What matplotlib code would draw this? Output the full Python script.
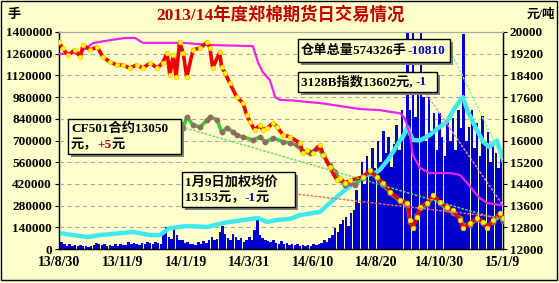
import matplotlib
matplotlib.use('Agg')
import matplotlib.pyplot as plt
from matplotlib.patches import Rectangle
from matplotlib.text import Annotation

plt.rcParams['font.family'] = ['Liberation Serif', 'Noto Sans CJK SC']
plt.rcParams['font.weight'] = 'bold'

W, H = 559, 283
BG = '#FFFFCC'

# x values are days since 2013-08-30
tick_days = [0, 71, 142, 213, 284, 355, 426, 497]
tick_labels = ['13/8/30', '13/11/9', '14/1/19', '14/3/31', '14/6/10', '14/8/20', '14/10/30', '15/1/9']

# daily volume (lots), left axis
vol_day = [0, 3, 6, 9, 12, 15, 18, 21, 24, 27, 30, 33, 36, 39, 42, 45, 48, 51, 54, 57,
           60, 63, 66, 69, 72, 75, 78, 81, 84, 87, 90, 93, 96, 99, 102, 105, 108, 111, 114, 117,
           120, 123, 126, 129, 132, 135, 138, 141, 144, 147, 150, 153, 156, 159, 162, 165, 168, 171, 174, 177,
           180, 183, 186, 189, 192, 195, 198, 201, 204, 207, 210, 213, 216, 219, 222, 225, 228, 231, 234, 237,
           240, 243, 246, 249, 252, 255, 258, 261, 264, 267, 270, 273, 276, 279, 282, 285, 288, 291, 294, 297,
           300, 303, 306, 309, 312, 315, 318, 321, 324, 327, 330, 333, 336, 339, 342, 345, 348, 351, 354, 357,
           360, 363, 366, 369, 372, 375, 378, 381, 384, 387, 390, 393, 396, 399, 402, 405, 408, 411, 414, 417,
           420, 423, 426, 429, 432, 435, 438, 441, 444, 447, 450, 453, 456, 459, 462, 465, 468, 471, 474, 477,
           480, 483, 486, 489, 492, 495]
volume = [26, 45, 30, 22, 35, 20, 28, 18, 25, 20, 22, 15, 20, 28, 40, 30, 25, 33, 20, 27,
          18, 30, 22, 35, 25, 28, 48, 30, 40, 32, 26, 38, 30, 42, 36, 30, 45, 40, 35, 95,
          140, 80, 65, 128, 90, 55, 60, 40, 45, 35, 30, 25, 45, 35, 50, 40, 60, 75, 55, 65,
          110, 148, 100, 70, 60, 95, 80, 55, 70, 48, 60, 75, 55, 120, 187, 90, 70, 55, 50, 45,
          60, 40, 35, 50, 30, 40, 28, 35, 25, 30, 22, 28, 20, 26, 22, 30, 25, 35, 40, 58,
          45, 70, 90, 135, 110, 160, 187, 206, 150, 230, 250, 380, 300, 561, 420, 600, 480, 650, 523, 700,
          560, 760, 620, 720, 529, 680, 800, 640, 900, 760, 1400, 900, 1400, 850, 1100, 1400, 981, 700, 980, 760,
          880, 640, 877, 720, 600, 820, 700, 845, 640, 900, 780, 1390, 700, 787, 900, 650, 813, 600, 860, 700,
          755, 560, 680, 619, 520, 600]
volume = [v * 1000 for v in volume]

# warehouse receipts (lots), left axis
rcpt_day = [0, 32, 46, 83, 102, 113, 124, 143, 166, 184, 206, 223, 233, 244, 259, 270, 292, 307, 320, 331,
            343, 354, 359, 368, 374, 382, 385, 390, 396, 404, 415, 426, 434, 443, 452, 457, 466, 475, 482, 490, 497]
receipts = [103, 77, 90, 110, 90, 90, 135, 148, 142, 168, 187, 200, 174, 187, 195, 219, 239, 316, 380, 426,
            477, 490, 510, 574, 626, 703, 723, 787, 703, 700, 735, 787, 820, 910, 980, 897, 787, 690, 658, 700, 574]
receipts = [v * 1000 for v in receipts]

# 3128B index (yuan/t), right axis
idx_day = [0, 23, 38, 57, 74, 85, 94, 139, 169, 217, 223, 228, 236, 242, 247, 259, 292, 337, 359, 382,
           387, 393, 396, 404, 415, 438, 449, 457, 466, 471, 479, 494, 497]
index_3128b = [19190, 19230, 19590, 19700, 19780, 19780, 19600, 19600, 19520, 19480, 18860, 18530, 18230, 17600, 17500,
               17480, 17380, 17160, 17120, 17000, 16830, 16200, 15470, 14990, 14800, 14800, 14730, 14430, 14060, 13880,
               13700, 13620, 13602]

# weighted average price (yuan/t), right axis
avg_day = [0, 4, 10, 18, 24, 27, 35, 43, 49, 57, 65, 72, 79, 87, 94, 102, 110, 116, 121, 124,
           128, 131, 135, 139, 143, 150, 158, 166, 169, 172, 180, 182, 186, 191, 199, 206, 210, 214, 219, 225,
           228, 233, 240, 244, 251, 259, 270, 273, 278, 284, 292, 296, 303, 311, 315, 320, 326, 340, 348, 356,
           363, 371, 382, 390, 393, 396, 401, 404, 412, 419, 426, 434, 441, 449, 452, 460, 468, 475, 479, 486,
           494, 497]
avg_price = [19630, 19410, 19150, 19340, 19080, 19520, 19340, 19450, 19080, 18900, 18780, 18780, 18670, 18780, 18670, 18860,
             18670, 18860, 19230, 18415, 19150, 18340, 19630, 19230, 18340, 19340, 19410, 19630, 19410, 18670, 19260, 18700,
             18490, 18120, 17600, 17380, 16940, 16680, 16390, 16570, 16390, 16460, 16650, 16500, 16200, 16130, 15900, 15540,
             15650, 15540, 15830, 15470, 15020, 14540, 14620, 14430, 14540, 14650, 14910, 14650, 14430, 14100, 13800, 13700,
             13070, 12770, 13180, 13550, 13700, 13990, 13730, 13550, 13440, 13070, 12770, 12960, 13140, 13000, 12770, 13070,
             13330, 13153]

# CF501 contract (yuan/t), right axis
cf_day = [139, 143, 150, 158, 166, 169, 177, 182, 188, 195, 199, 206, 217, 225, 231, 240, 251, 259, 266, 273,
          281, 289, 296, 303, 309, 315, 320, 326, 331, 340, 348, 356, 363, 371, 382, 390, 393, 396, 401, 404,
          412, 419, 426, 434, 441, 449, 452, 460, 468, 475, 479, 486, 494, 497]
cf501 = [16460, 16870, 16570, 16500, 16760, 16870, 16760, 16310, 16460, 16310, 16200, 16130, 16020, 16130, 15950, 16090,
         15950, 15910, 15830, 15580, 15540, 15720, 15470, 15100, 14840, 14540, 14360, 14430, 14360, 14620, 14840, 14620,
         14360, 14060, 13760, 13620, 13000, 12800, 13250, 13500, 13650, 13920, 13700, 13480, 13330, 13150, 12880, 12900,
         13100, 12950, 12850, 13000, 13250, 13050]


def fx(x):
    return x / W


def fy(y):
    return 1 - y / H


fig = plt.figure(figsize=(W / 100, H / 100), dpi=100, facecolor=BG)
ax = fig.add_axes([fx(59), fy(249), (503 - 59) / W, (249 - 32) / H])
ax.set_facecolor(BG)
ax2 = ax.twinx()

ax.bar(vol_day, volume, width=2.75, color='#0000CC', zorder=2)
ax.plot(rcpt_day, receipts, color='#40E8F2', lw=3.2, zorder=3, solid_joinstyle='round')

ax2.plot(idx_day, index_3128b, color='#EE22EE', lw=1.6, zorder=3)
ax2.plot(cf_day, cf501, color='#33CC33', lw=2.6, zorder=4,
         marker='o', ms=3.2, mfc='#996666', mec='#996666')
ax2.plot(avg_day, avg_price, color='#EE0000', lw=2.6, zorder=5,
         marker='o', ms=3.2, mfc='#FFFF00', mec='#FFCC00', mew=0.6)

left_ticks = list(range(0, 1400001, 140000))
ax.set_xlim(0, 497)
ax.set_ylim(0, 1400000)
ax2.set_ylim(12000, 20000)
ax.set_yticks(left_ticks)
ax.set_yticklabels([str(t) for t in left_ticks])
ax2.set_yticks(range(12000, 20001, 800))
ax.set_xticks(tick_days)
ax.set_xticklabels(tick_labels)
ax.yaxis.grid(True, linestyle=(0, (4, 3)), color='#A8A8A8', lw=0.8, zorder=0)
ax.set_axisbelow(True)

for a in (ax, ax2):
    a.tick_params(labelsize=9.5, length=3, width=0.8, pad=2)
    for s in ('left', 'right', 'bottom'):
        a.spines[s].set_linewidth(0.9)
    a.spines['top'].set_color('#A8A8A8')
ax.tick_params(axis='x', labelsize=10, length=0, pad=5)

fig.text(fx(280), fy(15), '2013/14年度郑棉期货日交易情况', color='#C00000',
         fontsize=12.5, ha='center', va='center')
fig.text(fx(8), fy(15), '手', fontsize=9.5, ha='left', va='center')
fig.text(fx(555), fy(15), '元/吨', fontsize=9, ha='right', va='center')

# figure border
fig.add_artist(Rectangle((fx(1), fy(280)), 556 / W, 279 / H, transform=fig.transFigure,
                         fill=False, ec='black', lw=1))


def box(x0, y0, x1, y1):
    fig.add_artist(Rectangle((fx(x0 + 3), fy(y1 + 3)), (x1 - x0) / W, (y1 - y0) / H,
                             transform=fig.transFigure, fc='#808080', ec='none', zorder=6))
    fig.add_artist(Rectangle((fx(x0), fy(y1)), (x1 - x0) / W, (y1 - y0) / H,
                             transform=fig.transFigure, fc=BG, ec='black', lw=1, zorder=7))


def rich(x, y, parts, size=9.5):
    prev = None
    for s, c in parts:
        if prev is None:
            prev = fig.text(fx(x), fy(y), s, color=c, fontsize=size, ha='left', va='center', zorder=8)
        else:
            prev = fig.add_artist(Annotation(s, xy=(1, 0.5), xycoords=prev, color=c, fontsize=size,
                                             ha='left', va='center', zorder=8))


box(298, 39, 450, 62)
rich(301, 51, [('仓单总量574326手', 'black'), ('-10810', '#0000CC')])
box(298, 72, 437, 92)
rich(301, 82, [('3128B指数13602元, ', 'black'), ('-1', '#0000CC')])
box(68, 119, 181, 154)
rich(71, 129, [('CF501合约13050', 'black')])
rich(71, 145, [('元，', 'black'), ('+5', '#990000'), ('元', 'black')])
box(182, 172, 295, 207)
rich(185, 182, [('1月9日加权均价', 'black')])
rich(185, 198, [('13153元，', 'black'), ('-1', '#0000CC'), ('元', 'black')])

# dotted leader lines from the boxes to the last values
lead = dict(arrowstyle='-', linestyle=':', lw=1.1, shrinkA=0, shrinkB=0)
ax2.annotate('', xy=(cf_day[-1], cf501[-1]), xytext=(182, H - 127), textcoords='figure pixels',
             arrowprops=dict(lead, color='#66DD66'), zorder=6)
ax2.annotate('', xy=(avg_day[-1], avg_price[-1]), xytext=(295, H - 194), textcoords='figure pixels',
             arrowprops=dict(lead, color='#FF6666'), zorder=6)
ax2.annotate('', xy=(idx_day[-1], index_3128b[-1]), xytext=(425, H - 92), textcoords='figure pixels',
             arrowprops=dict(lead, color='#FF88CC'), zorder=6)
ax2.annotate('', xy=(rcpt_day[-1], receipts[-1] / 1400000 * 8000 + 12000), xytext=(451, H - 52),
             textcoords='figure pixels', arrowprops=dict(lead, color='#88EEBB'), zorder=6)

fig.savefig('out.png', dpi=100, facecolor=BG)
